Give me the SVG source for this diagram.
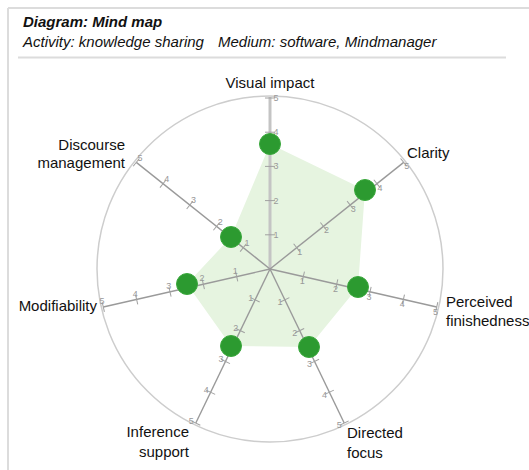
<svg xmlns="http://www.w3.org/2000/svg" width="529" height="470" viewBox="0 0 529 470">
<style>
.hdr{font-family:"Liberation Sans",Arial,sans-serif;font-size:15px;font-style:italic;fill:#111}
.lbl{font-family:"Liberation Sans",Arial,sans-serif;font-size:15px;fill:#111}
.tk{font-family:"Liberation Sans",Arial,sans-serif;font-size:9px;fill:#999;text-anchor:middle}
.ax{stroke:#9a9a9a;stroke-width:1.4;fill:none}
.tl{stroke:#a0a0a0;stroke-width:1}
.dot{fill:#2c9a30;stroke:#3aa83c;stroke-width:1}
</style>
<rect width="529" height="470" fill="#fff"/>
<g id="frame">
<line x1="8" y1="8" x2="529" y2="8" stroke="#dcdcdc" stroke-width="2"/>
<line x1="8" y1="8" x2="8" y2="470" stroke="#dcdcdc" stroke-width="2"/>
<line x1="18" y1="57.5" x2="506" y2="57.5" stroke="#dcdcdc" stroke-width="2"/>
</g>
<g id="header">
<text class="hdr" x="23" y="27" font-weight="bold">Diagram: Mind map</text>
<text class="hdr" x="23" y="47">Activity: knowledge sharing</text>
<text class="hdr" x="218" y="47">Medium: software, Mindmanager</text>
</g>
<circle id="ring" cx="270" cy="269" r="173" fill="none" stroke="#cdcdcd" stroke-width="1.5"/>
<polygon id="area" points="270,144 365,190 358,287 309,347 231,346 187,284 231,237" fill="#e6f4e0"/>
<g id="connectors">
<g id="axis-visual" transform="rotate(-90 270 269)">
<line x1="270" y1="269" x2="442" y2="269" stroke="#c4c4c4" stroke-width="3"/>
<line class="tl" x1="304.2" y1="264" x2="304.2" y2="274"/><line class="tl" x1="338.4" y1="264" x2="338.4" y2="274"/><line class="tl" x1="372.6" y1="264" x2="372.6" y2="274"/><line class="tl" x1="406.8" y1="264" x2="406.8" y2="274"/><line class="tl" x1="441" y1="264" x2="441" y2="274"/>
<text class="tk" transform="translate(304.2,275) rotate(90)" y="3">1</text><text class="tk" transform="translate(338.4,275) rotate(90)" y="3">2</text><text class="tk" transform="translate(372.6,275) rotate(90)" y="3">3</text><text class="tk" transform="translate(406.8,275) rotate(90)" y="3">4</text><text class="tk" transform="translate(441,275) rotate(90)" y="3">5</text>
</g>
<g id="axis-clarity" transform="rotate(-38.571 270 269)">
<line class="ax" x1="270" y1="269" x2="441" y2="269"/>
<line class="tl" x1="304.2" y1="264" x2="304.2" y2="274"/><line class="tl" x1="338.4" y1="264" x2="338.4" y2="274"/><line class="tl" x1="372.6" y1="264" x2="372.6" y2="274"/><line class="tl" x1="406.8" y1="264" x2="406.8" y2="274"/><line class="tl" x1="441" y1="264" x2="441" y2="274"/>
<text class="tk" transform="translate(304.2,274) rotate(38.571)" y="3">1</text><text class="tk" transform="translate(338.4,274) rotate(38.571)" y="3">2</text><text class="tk" transform="translate(372.6,274) rotate(38.571)" y="3">3</text><text class="tk" transform="translate(406.8,274) rotate(38.571)" y="3">4</text><text class="tk" transform="translate(441,274) rotate(38.571)" y="3">5</text>
</g>
<g id="axis-perceived" transform="rotate(12.857 270 269)">
<line class="ax" x1="270" y1="269" x2="441" y2="269"/>
<line class="tl" x1="304.2" y1="264" x2="304.2" y2="274"/><line class="tl" x1="338.4" y1="264" x2="338.4" y2="274"/><line class="tl" x1="372.6" y1="264" x2="372.6" y2="274"/><line class="tl" x1="406.8" y1="264" x2="406.8" y2="274"/><line class="tl" x1="441" y1="264" x2="441" y2="274"/>
<text class="tk" transform="translate(304.2,274) rotate(-12.857)" y="3">1</text><text class="tk" transform="translate(338.4,274) rotate(-12.857)" y="3">2</text><text class="tk" transform="translate(372.6,274) rotate(-12.857)" y="3">3</text><text class="tk" transform="translate(406.8,274) rotate(-12.857)" y="3">4</text><text class="tk" transform="translate(441,274) rotate(-12.857)" y="3">5</text>
</g>
<g id="axis-directed" transform="rotate(64.286 270 269)">
<line class="ax" x1="270" y1="269" x2="441" y2="269"/>
<line class="tl" x1="304.2" y1="264" x2="304.2" y2="274"/><line class="tl" x1="338.4" y1="264" x2="338.4" y2="274"/><line class="tl" x1="372.6" y1="264" x2="372.6" y2="274"/><line class="tl" x1="406.8" y1="264" x2="406.8" y2="274"/><line class="tl" x1="441" y1="264" x2="441" y2="274"/>
<text class="tk" transform="translate(304.2,274.5) rotate(-64.286)" y="3">1</text><text class="tk" transform="translate(338.4,274.5) rotate(-64.286)" y="3">2</text><text class="tk" transform="translate(372.6,274.5) rotate(-64.286)" y="3">3</text><text class="tk" transform="translate(406.8,274.5) rotate(-64.286)" y="3">4</text><text class="tk" transform="translate(441,274.5) rotate(-64.286)" y="3">5</text>
</g>
<g id="axis-inference" transform="rotate(115.714 270 269)">
<line class="ax" x1="270" y1="269" x2="441" y2="269"/>
<line class="tl" x1="304.2" y1="264" x2="304.2" y2="274"/><line class="tl" x1="338.4" y1="264" x2="338.4" y2="274"/><line class="tl" x1="372.6" y1="264" x2="372.6" y2="274"/><line class="tl" x1="406.8" y1="264" x2="406.8" y2="274"/><line class="tl" x1="441" y1="264" x2="441" y2="274"/>
<text class="tk" transform="translate(304.2,274) rotate(-115.714)" y="3">1</text><text class="tk" transform="translate(338.4,274) rotate(-115.714)" y="3">2</text><text class="tk" transform="translate(372.6,274) rotate(-115.714)" y="3">3</text><text class="tk" transform="translate(406.8,274) rotate(-115.714)" y="3">4</text><text class="tk" transform="translate(441,274) rotate(-115.714)" y="3">5</text>
</g>
<g id="axis-modifiability" transform="rotate(167.143 270 269)">
<line class="ax" x1="270" y1="269" x2="441" y2="269"/>
<line class="tl" x1="304.2" y1="264" x2="304.2" y2="274"/><line class="tl" x1="338.4" y1="264" x2="338.4" y2="274"/><line class="tl" x1="372.6" y1="264" x2="372.6" y2="274"/><line class="tl" x1="406.8" y1="264" x2="406.8" y2="274"/><line class="tl" x1="441" y1="264" x2="441" y2="274"/>
<text class="tk" transform="translate(304.2,275) rotate(-167.143)" y="3">1</text><text class="tk" transform="translate(338.4,275) rotate(-167.143)" y="3">2</text><text class="tk" transform="translate(372.6,275) rotate(-167.143)" y="3">3</text><text class="tk" transform="translate(406.8,275) rotate(-167.143)" y="3">4</text><text class="tk" transform="translate(441,275) rotate(-167.143)" y="3">5</text>
</g>
<g id="axis-discourse" transform="rotate(218.571 270 269)">
<line class="ax" x1="270" y1="269" x2="441" y2="269"/>
<line class="tl" x1="304.2" y1="264" x2="304.2" y2="274"/><line class="tl" x1="338.4" y1="264" x2="338.4" y2="274"/><line class="tl" x1="372.6" y1="264" x2="372.6" y2="274"/><line class="tl" x1="406.8" y1="264" x2="406.8" y2="274"/><line class="tl" x1="441" y1="264" x2="441" y2="274"/>
<text class="tk" transform="translate(304.2,275) rotate(-218.571)" y="3">1</text><text class="tk" transform="translate(338.4,275) rotate(-218.571)" y="3">2</text><text class="tk" transform="translate(372.6,275) rotate(-218.571)" y="3">3</text><text class="tk" transform="translate(406.8,275) rotate(-218.571)" y="3">4</text><text class="tk" transform="translate(441,275) rotate(-218.571)" y="3">5</text>
</g>
</g>
<g id="node-visual-impact"><circle class="dot" cx="270" cy="144" r="10.5"/><text class="lbl" x="270" y="88" text-anchor="middle">Visual impact</text></g>
<g id="node-clarity"><circle class="dot" cx="365" cy="190" r="10.5"/><text class="lbl" x="407" y="158">Clarity</text></g>
<g id="node-perceived-finishedness"><circle class="dot" cx="358" cy="287" r="10.5"/><text class="lbl" x="446" y="307">Perceived</text><text class="lbl" x="446" y="326">finishedness</text></g>
<g id="node-directed-focus"><circle class="dot" cx="309" cy="347" r="10.5"/><text class="lbl" x="347" y="438">Directed</text><text class="lbl" x="347" y="458">focus</text></g>
<g id="node-inference-support"><circle class="dot" cx="231" cy="346" r="10.5"/><text class="lbl" x="189" y="437" text-anchor="end">Inference</text><text class="lbl" x="189" y="457" text-anchor="end">support</text></g>
<g id="node-modifiability"><circle class="dot" cx="187" cy="284" r="10.5"/><text class="lbl" x="97" y="311" text-anchor="end">Modifiability</text></g>
<g id="node-discourse-management"><circle class="dot" cx="231" cy="237" r="10.5"/><text class="lbl" x="125" y="150" text-anchor="end">Discourse</text><text class="lbl" x="125" y="168" text-anchor="end">management</text></g>
</svg>
